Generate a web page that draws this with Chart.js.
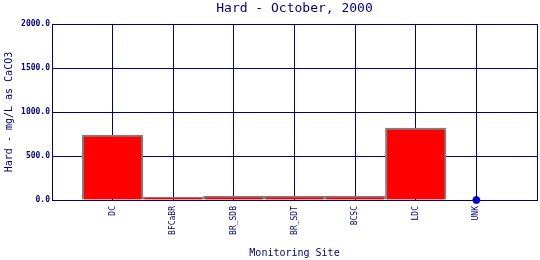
<!DOCTYPE html>
<html lang="en">
<head>
    <meta charset="UTF-8">
    <title>Hard - October, 2000</title>
    <script src="https://cdn.jsdelivr.net/npm/chart.js"></script>
    <style>
        body { margin: 0; background: #ffffff; }
    </style>
</head>
<body>
    <canvas id="myChart" width="540" height="260"></canvas>

    <script>
        // sites along the x axis (empty slots at both ends keep the frame)
        const sites = ['', 'DC', 'BFCaBR', 'BR_SDB', 'BR_SDT', 'BCSC', 'LDC', 'UNK', ''];
        // hardness, mg/L as CaCO3
        const hardValues = [null, 737, 34, 45, 45, 45, 816, null, null];
        // site with no bar, shown as a dot on the zero line
        const markerValues = [null, null, null, null, null, null, null, 0, null];
        const yTicks = [0, 500, 1000, 1500, 2000];

        const navy = '#000080';
        const mono = 'DejaVu Sans Mono';

        // center the chart title over the plot area instead of the whole canvas
        const titleOverPlot = {
            id: 'titleOverPlot',
            afterLayout(chart) {
                const t = chart.titleBlock;
                if (t) {
                    t.left = chart.chartArea.left;
                    t.right = chart.chartArea.right;
                }
            }
        };

        const ctx = document.getElementById('myChart').getContext('2d');

        const myChart = new Chart(ctx, {
            type: 'bar',
            data: {
                labels: sites,
                datasets: [
                    {
                        type: 'line',
                        label: 'Marker',
                        data: markerValues,
                        showLine: false,
                        pointRadius: 3.5,
                        pointBackgroundColor: '#0000cc',
                        pointBorderColor: '#0000cc',
                        clip: false,
                        order: 0
                    },
                    {
                        label: 'Hard',
                        data: hardValues,
                        backgroundColor: '#ff0000',
                        borderColor: '#808080',
                        borderWidth: 2,
                        barPercentage: 1,
                        categoryPercentage: 1,
                        order: 1
                    }
                ]
            },
            plugins: [titleOverPlot],
            options: {
                responsive: false,
                animation: false,
                layout: {
                    autoPadding: false,
                    padding: { right: 3, left: 0, top: 0, bottom: 0 }
                },
                plugins: {
                    legend: { display: false },
                    tooltip: { enabled: false },
                    title: {
                        display: true,
                        text: 'Hard - October, 2000',
                        color: navy,
                        font: { family: mono, size: 13, weight: 'normal' },
                        padding: { top: 1, bottom: 7.4 }
                    }
                },
                scales: {
                    x: {
                        offset: false,
                        grid: {
                            offset: false,
                            color: navy,
                            lineWidth: 1,
                            tickLength: 0
                        },
                        border: { color: navy, width: 1 },
                        ticks: {
                            color: navy,
                            font: { family: mono, size: 8 },
                            minRotation: 90,
                            maxRotation: 90,
                            padding: 6,
                            autoSkip: false
                        },
                        title: {
                            display: true,
                            text: 'Monitoring Site',
                            color: navy,
                            font: { family: mono, size: 10 },
                            padding: { top: 0, bottom: 1 }
                        },
                        afterFit: scale => {
                            scale.height = 60;
                            scale.paddingLeft = 0;
                            scale.paddingRight = 0;
                        }
                    },
                    y: {
                        min: 0,
                        max: 2000,
                        afterBuildTicks: scale => {
                            scale.ticks = yTicks.map(v => ({ value: v }));
                        },
                        grid: {
                            color: navy,
                            lineWidth: 1,
                            tickLength: 0
                        },
                        border: { color: navy, width: 1 },
                        ticks: {
                            color: navy,
                            font: { family: mono, size: 8, weight: 'bold' },
                            padding: 2,
                            callback: v => v.toFixed(1)
                        },
                        title: {
                            display: true,
                            text: 'Hard - mg/L as CaCO3',
                            color: navy,
                            font: { family: mono, size: 10 },
                            padding: { top: 3, bottom: 0 }
                        },
                        afterFit: scale => { scale.width = 52; }
                    }
                }
            }
        });
    </script>
</body>
</html>
